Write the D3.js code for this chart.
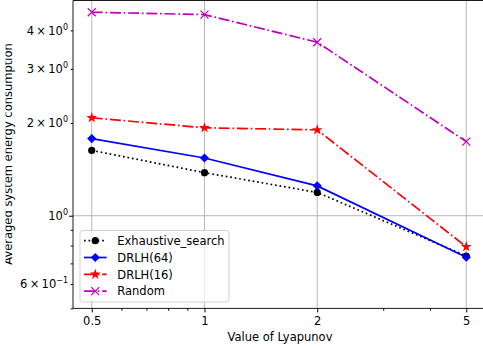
<!DOCTYPE html>
<html>
<head>
<meta charset="utf-8">
<script src="https://cdn.jsdelivr.net/npm/d3@7"></script>
<style>
  html, body { margin: 0; padding: 0; background: #fff; }
  svg { display: block; font-family: "DejaVu Sans", sans-serif; }
</style>
</head>
<body>
<div id="chart"></div>
<script>
const xValues = [0.5, 1, 2, 5];
const xTickLabels = ['0.5', '1', '2', '5'];
const exhaustive = [1.63, 1.38, 1.19, 0.74];
const drlh64 = [1.78, 1.54, 1.25, 0.733];
const drlh16 = [2.08, 1.93, 1.90, 0.793];
const random = [4.58, 4.50, 3.66, 1.74];
const yMinorTicks = [0.5, 0.6, 0.7, 0.8, 0.9, 2, 3, 4];
const yLabelled = [
  { v: 0.6, m: '6', e: '\u22121' },
  { v: 1, m: null, e: '0' },
  { v: 2, m: '2', e: '0' },
  { v: 3, m: '3', e: '0' },
  { v: 4, m: '4', e: '0' }
];
const xMinorTicks = [0.6, 0.7, 0.8, 0.9, 3, 4];

const series = [
  { name: 'Exhaustive_search', values: exhaustive, color: '#000000', dash: '1.7,2.85', marker: 'circle' },
  { name: 'DRLH(64)', values: drlh64, color: '#0000ff', dash: null, marker: 'diamond' },
  { name: 'DRLH(16)', values: drlh16, color: '#ff0000', dash: '11,2.75,1.7,2.75', marker: 'star' },
  { name: 'Random', values: random, color: '#bf00bf', dash: '11,2.75,1.7,2.75', marker: 'x' }
];

const width = 483, height = 347;
const plot = { left: 73, right: 485, top: 0.5, bottom: 308.4 };
const fs = 11.5;

const svg = d3.select('#chart').append('svg')
  .attr('width', width).attr('height', height);

// the y label is cut at the left edge in the original
svg.append('defs').append('clipPath').attr('id', 'ylabel-clip')
  .append('rect').attr('x', 5.5).attr('y', 0).attr('width', 30).attr('height', height);

const x = d3.scaleLog().domain([0.4456, 5.61]).range([plot.left, plot.right]);
const y = d3.scaleLog().domain([0.5, 5.0]).range([plot.bottom, plot.top]);

// grid
const grid = svg.append('g');
xValues.forEach(function(v) {
  grid.append('line')
    .attr('x1', x(v)).attr('x2', x(v))
    .attr('y1', plot.top).attr('y2', plot.bottom)
    .attr('stroke', '#b0b0b0').attr('stroke-width', 0.9);
});
grid.append('line')
  .attr('x1', plot.left).attr('x2', plot.right)
  .attr('y1', y(1)).attr('y2', y(1))
  .attr('stroke', '#b0b0b0').attr('stroke-width', 0.9);

// x axis
const xAxis = d3.axisBottom(x).tickValues(xValues)
  .tickFormat(function(d, i) { return xTickLabels[i]; })
  .tickSize(4).tickPadding(4);
const gx = svg.append('g').attr('transform', 'translate(0,' + plot.bottom + ')').call(xAxis);
gx.select('.domain').remove();
gx.selectAll('text').attr('font-size', fs).attr('fill', '#000').attr('font-family', 'DejaVu Sans');
svg.append('g').attr('transform', 'translate(0,' + plot.bottom + ')')
  .call(d3.axisBottom(x).tickValues(xMinorTicks).tickFormat('').tickSize(2.3))
  .select('.domain').remove();

// y axis
const gy = svg.append('g').attr('transform', 'translate(' + plot.left + ',0)')
  .call(d3.axisLeft(y).tickValues([1]).tickFormat('').tickSize(4));
gy.select('.domain').remove();
svg.append('g').attr('transform', 'translate(' + plot.left + ',0)')
  .call(d3.axisLeft(y).tickValues(yMinorTicks).tickFormat('').tickSize(2.3))
  .select('.domain').remove();

const yl = svg.append('g');
yLabelled.forEach(function(t) {
  const txt = yl.append('text')
    .attr('x', plot.left - 5).attr('y', y(t.v) + 4.2)
    .attr('text-anchor', 'end').attr('font-size', fs).attr('fill', '#000');
  txt.append('tspan').text((t.m ? t.m + '\u2009\u00d7\u200910' : '10'));
  txt.append('tspan').attr('font-size', 8).attr('dy', -5).text(t.e);
});

// spines
svg.append('line').attr('x1', plot.left).attr('x2', plot.left)
  .attr('y1', plot.top).attr('y2', plot.bottom).attr('stroke', '#000').attr('stroke-width', 0.9);
svg.append('line').attr('x1', plot.left).attr('x2', plot.right)
  .attr('y1', plot.bottom).attr('y2', plot.bottom).attr('stroke', '#000').attr('stroke-width', 0.9);
svg.append('line').attr('x1', plot.left).attr('x2', plot.right)
  .attr('y1', plot.top).attr('y2', plot.top).attr('stroke', '#000').attr('stroke-width', 0.9);

// labels
svg.append('text').attr('x', 280).attr('y', 341).attr('text-anchor', 'middle')
  .attr('font-size', fs).text('Value of Lyapunov');
svg.append('g').attr('clip-path', 'url(#ylabel-clip)')
  .append('text').attr('transform', 'translate(11.5,154) rotate(-90)')
  .attr('text-anchor', 'middle').attr('font-size', fs).text('Averaged system energy consumption');

function drawMarker(g, type, color, cx, cy) {
  if (type === 'circle') {
    g.append('circle').attr('cx', cx).attr('cy', cy).attr('r', 3.6).attr('fill', color);
  } else if (type === 'diamond') {
    g.append('path').attr('d', 'M' + cx + ',' + (cy - 4.6) + 'L' + (cx + 4.6) + ',' + cy + 'L' + cx + ',' + (cy + 4.6) + 'L' + (cx - 4.6) + ',' + cy + 'Z')
      .attr('fill', color);
  } else if (type === 'star') {
    g.append('path').attr('d', d3.symbol().type(d3.symbolStar).size(36)())
      .attr('transform', 'translate(' + cx + ',' + cy + ')').attr('fill', color);
  } else if (type === 'x') {
    const s = 4;
    g.append('path').attr('d', 'M' + (cx - s) + ',' + (cy - s) + 'L' + (cx + s) + ',' + (cy + s) + 'M' + (cx - s) + ',' + (cy + s) + 'L' + (cx + s) + ',' + (cy - s))
      .attr('stroke', color).attr('stroke-width', 1.2).attr('fill', 'none');
  }
}

const line = d3.line().x(function(d) { return x(d[0]); }).y(function(d) { return y(d[1]); });
const marks = svg.append('g');
series.forEach(function(s) {
  const pts = xValues.map(function(v, i) { return [v, s.values[i]]; });
  marks.append('path').attr('d', line(pts)).attr('fill', 'none')
    .attr('stroke', s.color).attr('stroke-width', 1.7)
    .attr('stroke-dasharray', s.dash);
  pts.forEach(function(p) { drawMarker(marks, s.marker, s.color, x(p[0]), y(p[1])); });
});

// legend
const lg = svg.append('g');
lg.append('rect').attr('x', 80).attr('y', 230.5).attr('width', 149).attr('height', 71.5)
  .attr('rx', 2.5).attr('fill', '#fff').attr('fill-opacity', 0.8)
  .attr('stroke', '#cccccc').attr('stroke-width', 0.9);
series.forEach(function(s, i) {
  const ly = 240.7 + i * 16.8;
  lg.append('line').attr('x1', 84).attr('x2', 106.7).attr('y1', ly).attr('y2', ly)
    .attr('stroke', s.color).attr('stroke-width', 1.7).attr('stroke-dasharray', s.dash);
  drawMarker(lg, s.marker, s.color, 95.3, ly);
  lg.append('text').attr('x', 117.3).attr('y', ly + 4.2).attr('font-size', fs).text(s.name);
});
</script>
</body>
</html>
